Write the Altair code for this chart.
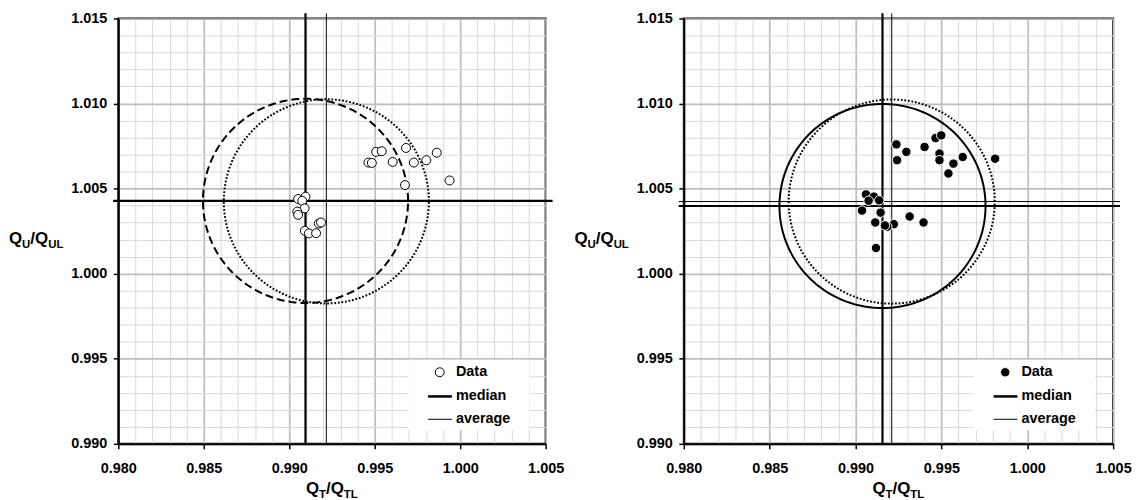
import altair as alt
import pandas as pd

FONT = "Liberation Sans"

# ---- data ----
left_x = [0.99508, 0.99541, 0.99463, 0.99483, 0.99605, 0.99683, 0.99729, 0.99802, 0.99863, 0.99938, 0.99677,
          0.99052, 0.99095, 0.99076, 0.99090, 0.99047, 0.99052, 0.99173, 0.99186, 0.99091, 0.99115, 0.99157]
left_y = [1.00716, 1.00720, 1.00653, 1.00651, 1.00657, 1.00739, 1.00653, 1.00667, 1.00711, 1.00548, 1.00521,
          1.00439, 1.00453, 1.00428, 1.00384, 1.00365, 1.00346, 1.00295, 1.00301, 1.00252, 1.00237, 1.00238]

right_x = [0.99238, 0.99296, 0.99242, 0.99402, 0.99466, 0.99499, 0.99489, 0.99489, 0.99570, 0.99624, 0.99541, 0.99813,
           0.99061, 0.99107, 0.99076, 0.99138, 0.99038, 0.99146, 0.99115, 0.99223, 0.99185, 0.99171, 0.99315, 0.99396, 0.99119]
right_y = [1.00760, 1.00716, 1.00667, 1.00745, 1.00797, 1.00813, 1.00706, 1.00667, 1.00647, 1.00686, 1.00589, 1.00676,
           1.00466, 1.00453, 1.00429, 1.00431, 1.00371, 1.00359, 1.00301, 1.00291, 1.00276, 1.00283, 1.00336, 1.00301, 1.00151]

left_median = (0.99095, 1.00428)
left_average = (0.99217, 1.00425)
right_median = (0.99157, 1.00398)
right_average = (0.99211, 1.00424)
radius = 0.006

legend_labels = ["Data", "median", "average"]

X_DOMAIN = [0.980, 1.005]
Y_DOMAIN = [0.990, 1.015]
X_VALUES = [round(0.980 + 0.001 * i, 3) for i in range(26)]
Y_VALUES = [round(0.990 + 0.001 * i, 3) for i in range(26)]
RULE_X_EXTENT = [0.9797, 1.0054]
RULE_Y_EXTENT = [0.990, 1.0153]

MAJOR = "round(datum.value*1000) % 5 == 0"
H = 428


def make_axis(vals, is_x):
    return alt.Axis(
        values=vals, title=None, grid=True,
        gridColor={"condition": {"test": MAJOR, "value": "#bdbdbd"}, "value": "#dadada"},
        gridWidth={"condition": {"test": MAJOR, "value": 1.7}, "value": 1},
        tickColor={"condition": {"test": MAJOR, "value": "black"}, "value": "rgba(0,0,0,0)"},
        tickSize=5, tickWidth=1.5, domainColor="black", domainWidth=2,
        labelExpr=f"{MAJOR} ? format(datum.value, '.3f') : ''",
        labelFont=FONT, labelFontSize=14.5, labelFontWeight="bold", labelColor="black",
        labelPadding=13 if is_x else 6.5, labelOverlap=False, labelFlush=False,
    )


def X(field):
    return alt.X(field, type="quantitative",
                 scale=alt.Scale(domain=X_DOMAIN, nice=False, zero=False),
                 axis=make_axis(X_VALUES, True))


def Y(field):
    return alt.Y(field, type="quantitative",
                 scale=alt.Scale(domain=Y_DOMAIN, nice=False, zero=False),
                 axis=make_axis(Y_VALUES, False))


def text_piece(txt, px, py, size, align="left", baseline="alphabetic"):
    return alt.Chart(pd.DataFrame({"a": [0]})).mark_text(
        text=txt, font=FONT, fontSize=size, fontWeight="bold", color="black",
        align=align, baseline=baseline,
    ).encode(x=alt.value(px), y=alt.value(py))


def circle_layer(center, dash, width):
    cx, cy = center
    return alt.Chart(alt.sequence(0, 362, 2, as_="t")).transform_calculate(
        x=f"{cx} + {radius} * cos(datum.t * PI / 180)",
        y=f"{cy} + {radius} * sin(datum.t * PI / 180)",
    ).mark_line(color="black", strokeWidth=width, strokeDash=dash).encode(
        x=X("x"), y=Y("y"), order="t:Q")


def lines_layer(center, width):
    cx, cy = center
    v = alt.Chart(pd.DataFrame({"x": [cx], "y0": [RULE_Y_EXTENT[0]], "y1": [RULE_Y_EXTENT[1]]})).mark_rule(
        color="black", strokeWidth=width).encode(x=X("x"), y=Y("y0"), y2="y1")
    h = alt.Chart(pd.DataFrame({"y": [cy], "x0": [RULE_X_EXTENT[0]], "x1": [RULE_X_EXTENT[1]]})).mark_rule(
        color="black", strokeWidth=width).encode(y=Y("y"), x=X("x0"), x2="x1")
    return [v, h]


def panel(xs, ys, median, average, median_dash, filled, width):
    pts = pd.DataFrame({"x": xs, "y": ys})
    if filled:
        point_mark = dict(size=90, fill="black", stroke="white", strokeWidth=1, opacity=1)
    else:
        point_mark = dict(size=81, fill="white", stroke="black", strokeWidth=1, opacity=1)
    points = alt.Chart(pts).mark_circle(**point_mark).encode(x=X("x"), y=Y("y"))

    layers = [
        circle_layer(median, median_dash, 2),
        circle_layer(average, [1.8, 1.8], 2),
        *lines_layer(median, 2.2),
        *lines_layer(average, 1),
        points,
    ]

    # legend box
    lx, ly = 291.7, 343.3
    layers.append(alt.Chart(pd.DataFrame({"a": [0]})).mark_rect(color="white").encode(
        x=alt.value(lx), x2=alt.value(lx + 122), y=alt.value(ly), y2=alt.value(ly + 71)))
    layers.append(alt.Chart(pd.DataFrame({"a": [0]})).mark_circle(**point_mark).encode(
        x=alt.value(lx + 31.7), y=alt.value(ly + 12.7)))
    layers.append(alt.Chart(pd.DataFrame({"a": [0]})).mark_rule(color="black", strokeWidth=2.5).encode(
        x=alt.value(lx + 20), x2=alt.value(lx + 44), y=alt.value(ly + 37)))
    layers.append(alt.Chart(pd.DataFrame({"a": [0]})).mark_rule(color="black", strokeWidth=1).encode(
        x=alt.value(lx + 20), x2=alt.value(lx + 44), y=alt.value(ly + 60)))
    for lab, dy in zip(legend_labels, [12.7, 37, 60]):
        layers.append(text_piece(lab, lx + 48, ly + dy, 14.5, baseline="middle"))

    # y title  Q_U/Q_UL
    base_y, sub_y = 226.5, 231.0
    x0 = -110
    layers += [
        text_piece("Q", x0, base_y, 17),
        text_piece("U", x0 + 13.2, sub_y, 11.5),
        text_piece("/", x0 + 21.5, base_y, 17),
        text_piece("Q", x0 + 26.2, base_y, 17),
        text_piece("UL", x0 + 39.4, sub_y, 11.5),
    ]
    # x title  Q_T/Q_TL
    c = width / 2
    xb, xs_ = H + 50.6, H + 55.0
    layers += [
        text_piece("Q", c - 26.15, xb, 17),
        text_piece("T", c - 12.95, xs_, 11.5),
        text_piece("/", c - 5.95, xb, 17),
        text_piece("Q", c - 1.25, xb, 17),
        text_piece("TL", c + 11.95, xs_, 11.5),
    ]
    return alt.layer(*layers).properties(width=width, height=H)


left = panel(left_x, left_y, left_median, left_average, [8, 4], False, 430)
right = panel(right_x, right_y, right_median, right_average, [], True, 432)

chart = alt.hconcat(left, right, spacing=8).properties(
    padding={"left": 0, "top": 0, "right": 0, "bottom": 0}
).configure_view(stroke="black", strokeWidth=2)

chart.save("out.html", embed_options={"renderer": "svg", "actions": False})
